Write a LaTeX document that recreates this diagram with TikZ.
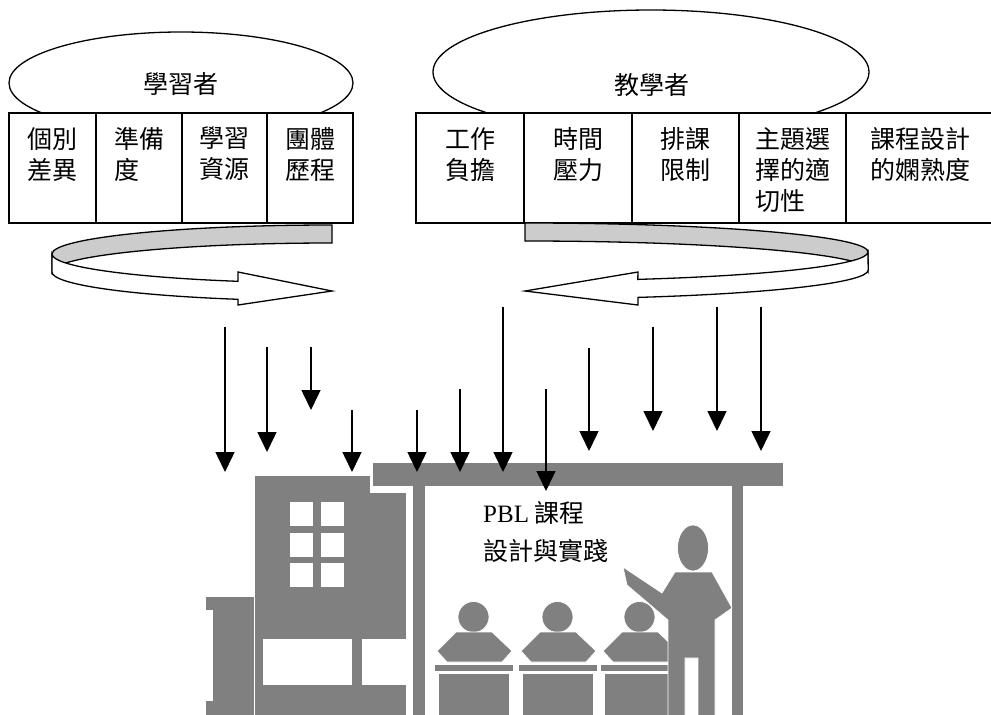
\documentclass[tikz,border=0pt]{standalone}
\usepackage{fontspec}
\setmainfont{Liberation Serif}
\newfontfamily\cjk{Noto Sans CJK TC}
\usetikzlibrary{shapes.geometric,arrows.meta}
\definecolor{blockgray}{HTML}{808080}
\definecolor{bandgray}{HTML}{CCCCCC}
\begin{document}
    \begin{tikzpicture}[x=1pt,y=-1pt,
        every node/.style={font=\cjk\fontsize{25}{31}\selectfont, inner sep=0pt},
        oval/.style={ellipse, draw, line width=1.3pt},
        cell/.style={draw, fill=white, line width=1.6pt},
        celltext/.style={anchor=north, align=left},
        ribbon/.style={draw, line width=1.3pt, line join=miter},
        block/.style={fill=blockgray, draw=white, line width=0.7pt},
        feed/.style={line width=1.5pt, -{Triangle[width=19pt,length=20pt]}}]
        \useasboundingbox (0,0) rectangle (991,715);
        \node[oval, minimum width=344pt, minimum height=102pt] (learner) at (181,83) {};
        \node[oval, minimum width=436pt, minimum height=124pt] (teacher) at (651,72) {};
        \node (learnerlbl) at (181,84) {學習者};
        \node (teacherlbl) at (652,85) {教學者};
        \foreach \a/\b in {9/96,96/182,182/267,267/353,416/524,524/632,632/739,739/846,846/995}
          \draw[cell] (\a,113) rectangle (\b,223);
        \node[celltext] (diff) at (52.5,127) {個別\\差異};
        \node[celltext] (ready) at (139,127) {準備\\度};
        \node[celltext] (res) at (224.5,127) {學習\\資源};
        \node[celltext] (group) at (310,127) {團體\\歷程};
        \node[celltext] (load) at (470,127) {工作\\負擔};
        \node[celltext] (time) at (578,127) {時間\\壓力};
        \node[celltext] (sched) at (685.5,127) {排課\\限制};
        \node[celltext] (topic) at (792.5,127) {主題選\\擇的適\\切性};
        \node[celltext] (skill) at (920,127) {課程設計\\的嫻熟度};
        \draw[ribbon, fill=bandgray] (332,225) arc[start angle=270, end angle=180, x radius=280, y radius=29]
          -- (52,272) arc[start angle=180, end angle=270, x radius=280, y radius=29] -- cycle;
        \draw[ribbon, fill=white] (52,254) arc[start angle=180, end angle=109.6, x radius=280, y radius=29]
          -- (238,272) -- (332,291) -- (238,305) -- (238,299.3)
          arc[start angle=109.6, end angle=180, x radius=280, y radius=29] -- cycle;
        \draw[ribbon, fill=bandgray] (525,223) arc[start angle=270, end angle=360, x radius=343, y radius=29]
          -- (868,270) arc[start angle=0, end angle=-90, x radius=343, y radius=29] -- cycle;
        \draw[ribbon, fill=white] (868,252) arc[start angle=0, end angle=70.8, x radius=343, y radius=29]
          -- (638,272) -- (525,291) -- (638,305) -- (638,297.4)
          arc[start angle=70.8, end angle=0, x radius=343, y radius=29] -- cycle;
        \path[block] (205,596) -- (254,596) -- (254,716) -- (205,716) -- (205,700) -- (212,700) -- (212,610) -- (205,610) -- cycle;
        \path[block] (254,475) -- (370,475) -- (370,492) -- (406,492) -- (406,716) -- (254,716) -- cycle;
        \foreach \r in {0,1,2}
          \foreach \c in {0,1}
            \fill[white] (290+31*\c,502+30.5*\r) rectangle ++(23,24);
        \fill[white] (263,639) rectangle (352,685);
        \fill[white] (362,639) rectangle (407,685);
        \fill[blockgray] (373,463) rectangle (783,486);
        \fill[blockgray] (413,485) rectangle (425,716);
        \fill[blockgray] (732,485) rectangle (743,716);
        \foreach \cx in {474,558,640} {
          \path[block] (\cx-0.5,617) circle[radius=15.5];
          \path[block] (\cx-18,632) -- (\cx+18,632) -- (\cx+38,651) -- (\cx+28,662) -- (\cx-27,662) -- (\cx-37,651) -- cycle;
          \path[block] (\cx-40,664) rectangle (\cx+39,671);
          \path[block] (\cx-36,673) rectangle (\cx+35,716);
        }
        \path[block] (693,548) ellipse[x radius=15.5, y radius=23];
        \path[block] (623,567) -- (662,593) -- (675,572) -- (712,572) -- (732,608) -- (715,620) -- (715,716)
          -- (698,716) -- (698,658) -- (685,658) -- (685,716) -- (668,716) -- (668,620) -- (627,585) -- cycle;
        \node[anchor=west] (pbl) at (483,513) {{\rmfamily PBL} 課程};
        \node[anchor=west] (practice) at (483,551) {設計與實踐};
        \foreach \n/\x/\a/\b in {1/225/327/472, 2/267/347/452, 3/311/347/410, 4/352/410/472,
            5/417/410/472, 6/460/389/472, 7/503/307/472, 8/546/389/491,
            9/589/348/451, 10/653/327/431, 11/717/307/431, 12/761/307/451} {
          \coordinate (from\n) at (\x,\a);
          \coordinate (to\n) at (\x,\b);
          \draw[feed] (from\n) -- (to\n);
        }
    \end{tikzpicture}
\end{document}
